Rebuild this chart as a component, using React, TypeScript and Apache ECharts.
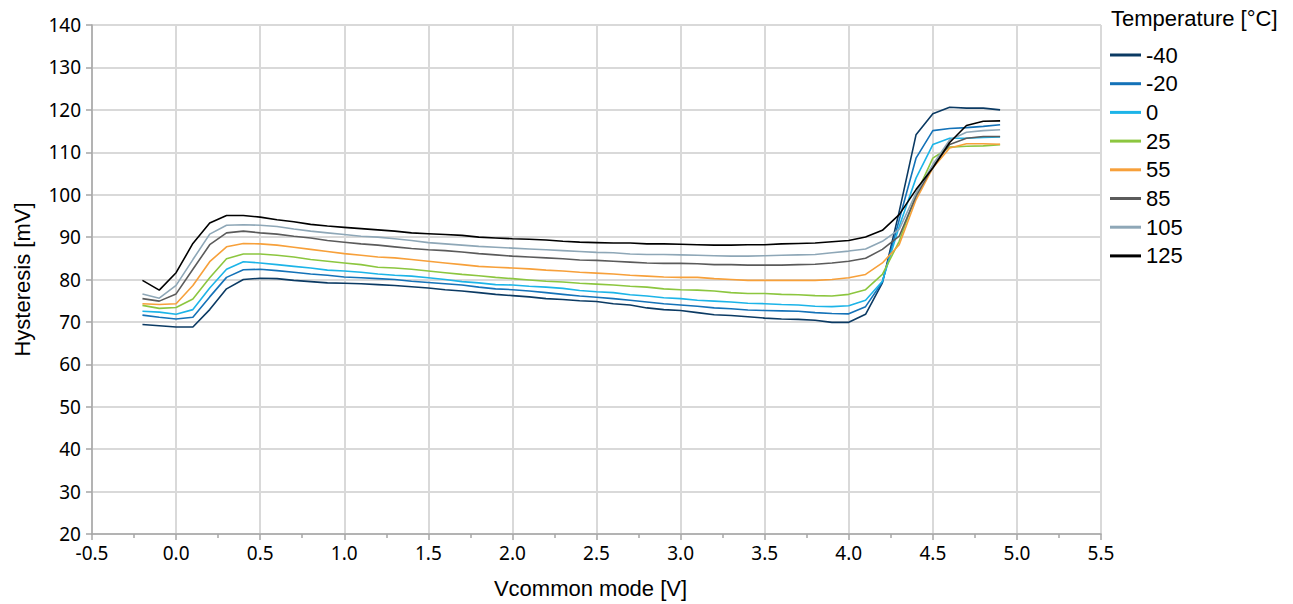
import React, { useEffect, useRef } from "react";
import * as echarts from "echarts";

const vcm = [
  -0.2, -0.1, 0.0, 0.1, 0.2, 0.3, 0.4, 0.5, 0.6, 0.7, 0.8, 0.9, 1.0, 1.1, 1.2, 1.3, 1.4, 1.5, 1.6, 1.7,
  1.8, 1.9, 2.0, 2.1, 2.2, 2.3, 2.4, 2.5, 2.6, 2.7, 2.8, 2.9, 3.0, 3.1, 3.2, 3.3, 3.4, 3.5, 3.6, 3.7,
  3.8, 3.9, 4.0, 4.1, 4.2, 4.3, 4.4, 4.5, 4.6, 4.7, 4.8, 4.9,
];

const tM40 = [
  69.4, 69.1, 68.8, 68.8, 72.9, 77.8, 80.0, 80.3, 80.2, 79.8, 79.5, 79.2, 79.1, 79.0, 78.8, 78.6, 78.3, 78.0, 77.6, 77.3,
  76.9, 76.5, 76.2, 75.9, 75.5, 75.3, 75.0, 74.8, 74.3, 74.0, 73.3, 72.9, 72.7, 72.2, 71.7, 71.5, 71.2, 70.9, 70.7, 70.6,
  70.4, 69.9, 69.9, 71.8, 79.2, 96.0, 114.1, 119.1, 120.6, 120.4, 120.4, 120.0,
];
const tM20 = [
  71.6, 71.1, 70.7, 71.1, 75.9, 80.5, 82.3, 82.4, 82.1, 81.7, 81.3, 81.0, 80.6, 80.4, 80.2, 80.0, 79.6, 79.3, 79.0, 78.7,
  78.2, 77.8, 77.6, 77.3, 76.9, 76.5, 76.1, 75.8, 75.5, 75.1, 74.7, 74.3, 74.0, 73.7, 73.3, 73.1, 72.8, 72.7, 72.6, 72.5,
  72.2, 72.0, 71.9, 73.6, 79.4, 94.1, 108.6, 115.1, 115.6, 115.8, 116.1, 116.5,
];
const t0 = [
  72.5, 72.3, 71.8, 72.9, 78.0, 82.4, 84.2, 83.9, 83.5, 83.1, 82.7, 82.2, 82.0, 81.7, 81.3, 81.0, 80.8, 80.4, 80.0, 79.5,
  79.2, 78.8, 78.7, 78.4, 78.2, 77.9, 77.4, 77.1, 76.9, 76.4, 76.1, 75.7, 75.5, 75.1, 74.9, 74.7, 74.4, 74.3, 74.1, 74.0,
  73.7, 73.6, 73.8, 75.1, 79.6, 92.5, 103.9, 111.8, 113.3, 113.3, 113.5, 113.6,
];
const t25 = [
  73.9, 73.2, 73.4, 75.4, 80.4, 84.9, 86.0, 86.0, 85.7, 85.3, 84.7, 84.3, 83.9, 83.5, 82.9, 82.7, 82.4, 82.0, 81.6, 81.2,
  80.9, 80.5, 80.2, 79.9, 79.6, 79.4, 79.1, 78.9, 78.7, 78.4, 78.2, 77.8, 77.6, 77.5, 77.3, 76.9, 76.7, 76.7, 76.5, 76.4,
  76.2, 76.1, 76.5, 77.6, 81.2, 89.0, 100.0, 108.6, 111.2, 111.4, 111.5, 111.8,
];
const t55 = [
  74.3, 74.1, 74.3, 78.6, 84.2, 87.7, 88.5, 88.4, 88.1, 87.6, 87.1, 86.6, 86.1, 85.7, 85.3, 85.1, 84.7, 84.3, 83.9, 83.5,
  83.1, 82.9, 82.7, 82.5, 82.2, 82.0, 81.7, 81.5, 81.3, 81.0, 80.8, 80.6, 80.5, 80.5, 80.2, 80.0, 79.8, 79.8, 79.8, 79.8,
  79.8, 80.0, 80.4, 81.2, 83.9, 88.2, 98.8, 106.3, 111.0, 112.0, 112.0, 111.9,
];
const t85 = [
  75.5, 74.9, 76.6, 82.4, 88.2, 91.0, 91.4, 91.0, 90.7, 90.2, 89.8, 89.2, 88.8, 88.4, 88.1, 87.7, 87.3, 87.0, 86.8, 86.5,
  86.1, 85.8, 85.5, 85.3, 85.1, 84.9, 84.6, 84.5, 84.3, 84.1, 83.9, 83.8, 83.8, 83.7, 83.5, 83.5, 83.4, 83.4, 83.4, 83.5,
  83.6, 83.9, 84.3, 85.0, 87.1, 90.2, 99.6, 106.7, 111.8, 113.3, 113.7, 113.7,
];
const t105 = [
  76.6, 75.6, 78.6, 84.7, 90.7, 92.8, 92.9, 92.8, 92.5, 91.9, 91.4, 91.0, 90.6, 90.2, 90.0, 89.6, 89.2, 88.7, 88.4, 88.1,
  87.8, 87.6, 87.4, 87.2, 87.0, 86.8, 86.6, 86.4, 86.3, 86.0, 85.9, 85.9, 85.8, 85.7, 85.6, 85.5, 85.5, 85.6, 85.7, 85.8,
  85.9, 86.3, 86.7, 87.2, 89.0, 91.8, 100.4, 107.1, 112.9, 114.7, 115.1, 115.3,
];
const t125 = [
  79.8, 77.5, 81.6, 88.5, 93.3, 95.1, 95.1, 94.7, 94.1, 93.6, 93.0, 92.6, 92.3, 92.0, 91.7, 91.4, 91.0, 90.8, 90.6, 90.4,
  90.0, 89.8, 89.6, 89.5, 89.3, 89.0, 88.8, 88.7, 88.6, 88.6, 88.4, 88.4, 88.3, 88.2, 88.1, 88.1, 88.2, 88.2, 88.4, 88.5,
  88.6, 88.9, 89.2, 90.0, 91.6, 95.3, 101.2, 106.3, 112.3, 116.3, 117.3, 117.4,
];

const seriesNames = ["-40", "-20", "0", "25", "55", "85", "105", "125"];
const seriesValues = [tM40, tM20, t0, t25, t55, t85, t105, t125];
const seriesColors = ["#0b3a63", "#1472b8", "#1cb4e8", "#8cc63f", "#f7a03a", "#5b5b5b", "#8ea7b7", "#000000"];

const legendTitle = "Temperature [°C]";
const xName = "Vcommon mode [V]";
const yName = "Hysteresis [mV]";

export default function App() {
  const ref = useRef<HTMLDivElement>(null);

  useEffect(() => {
    if (!ref.current) return;
    const chart = echarts.init(ref.current, undefined, { renderer: "svg" });
    const tickFont = "'Noto Sans', 'Open Sans', sans-serif";
    const nameFont = "'Liberation Sans', Arial, sans-serif";
    const axisGray = "#a6a6a6";
    chart.setOption({
      animation: false,
      backgroundColor: "#ffffff",
      title: {
        text: legendTitle,
        left: 1111,
        top: 6,
        padding: 0,
        textStyle: { fontFamily: nameFont, fontSize: 22, fontWeight: "normal", color: "#000", lineHeight: 24 },
      },
      legend: {
        orient: "vertical",
        left: 1110,
        top: 43,
        padding: 0,
        itemWidth: 31,
        itemHeight: 3,
        itemGap: 4.7,
        icon: "rect",
        textStyle: { fontFamily: nameFont, fontSize: 22, color: "#000", lineHeight: 24 },
        data: seriesNames,
      },
      grid: { left: 92, right: 192, top: 25, bottom: 69, containLabel: false },
      xAxis: {
        type: "value",
        min: -0.5,
        max: 5.5,
        interval: 0.5,
        name: xName,
        nameLocation: "middle",
        nameGap: 43,
        nameTextStyle: { fontFamily: nameFont, fontSize: 22, color: "#000", padding: [0, 12, 0, 0] },
        axisLine: { show: true, onZero: false, lineStyle: { color: axisGray, width: 1.5 } },
        axisTick: { show: true, length: 6, lineStyle: { color: axisGray, width: 1.5 } },
        minorTick: { show: true, splitNumber: 2, length: 4, lineStyle: { color: axisGray, width: 1.5 } },
        axisLabel: {
          fontFamily: tickFont,
          fontSize: 19,
          color: "#000",
          margin: 9,
          formatter: (v: number) => v.toFixed(1),
        },
        splitLine: { show: true, lineStyle: { color: "#d9d9d9", width: 2 } },
      },
      yAxis: {
        type: "value",
        min: 20,
        max: 140,
        interval: 10,
        name: yName,
        nameLocation: "middle",
        nameGap: 59,
        nameRotate: 90,
        nameTextStyle: { fontFamily: nameFont, fontSize: 22, color: "#000" },
        axisLine: { show: true, onZero: false, lineStyle: { color: axisGray, width: 1.5 } },
        axisTick: { show: true, length: 6, lineStyle: { color: axisGray, width: 1.5 } },
        axisLabel: { fontFamily: tickFont, fontSize: 19, color: "#000", margin: 11 },
        splitLine: { show: true, lineStyle: { color: "#d9d9d9", width: 2 } },
      },
      series: seriesNames.map((name, i) => ({
        name,
        type: "line",
        showSymbol: false,
        symbol: "none",
        color: seriesColors[i],
        lineStyle: { color: seriesColors[i], width: 1.6 },
        itemStyle: { color: seriesColors[i] },
        data: vcm.map((x, j) => [x, seriesValues[i][j]]),
        z: 2 + i,
      })),
    });
    return () => chart.dispose();
  }, []);

  return (
    <div
      ref={ref}
      style={{ position: "fixed", left: 0, top: 0, width: 1293, height: 604, background: "#fff" }}
    />
  );
}
